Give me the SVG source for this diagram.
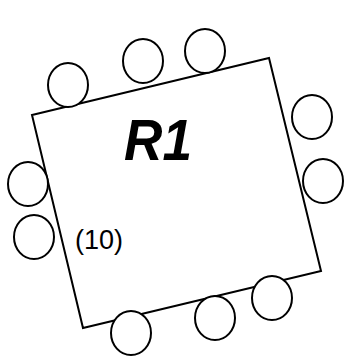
<svg xmlns="http://www.w3.org/2000/svg" width="346" height="357" viewBox="0 0 346 357">
<style>
.t{fill:#fff;stroke:#000;stroke-width:2}
.c{fill:#fff;stroke:#000;stroke-width:2}
.lbl{font-family:"Liberation Sans",Arial,sans-serif;fill:#000}
</style>
<rect width="346" height="357" fill="#fff"/>
<g id="table">
<polygon class="t" points="32,115 269,58 321,271 83,328"/>
<text class="lbl" x="124" y="160" font-size="58" font-weight="bold" font-style="italic" textLength="68" lengthAdjust="spacingAndGlyphs">R1</text>
<text class="lbl" x="75" y="249" font-size="27" textLength="48" lengthAdjust="spacingAndGlyphs">(10)</text>
</g>
<g id="chairs">
<ellipse id="chair1" class="c" cx="68" cy="85" rx="20" ry="22"/>
<ellipse id="chair2" class="c" cx="143" cy="61" rx="20" ry="22"/>
<ellipse id="chair3" class="c" cx="205" cy="51" rx="20" ry="22"/>
<ellipse id="chair4" class="c" cx="312" cy="117" rx="20" ry="22"/>
<ellipse id="chair5" class="c" cx="323" cy="181" rx="20" ry="22"/>
<ellipse id="chair6" class="c" cx="28" cy="184" rx="20" ry="22"/>
<ellipse id="chair7" class="c" cx="34" cy="237" rx="20" ry="22"/>
<ellipse id="chair8" class="c" cx="131" cy="333" rx="20" ry="22"/>
<ellipse id="chair9" class="c" cx="215" cy="318" rx="20" ry="22"/>
<ellipse id="chair10" class="c" cx="272" cy="298" rx="20" ry="22"/>
</g>
</svg>
